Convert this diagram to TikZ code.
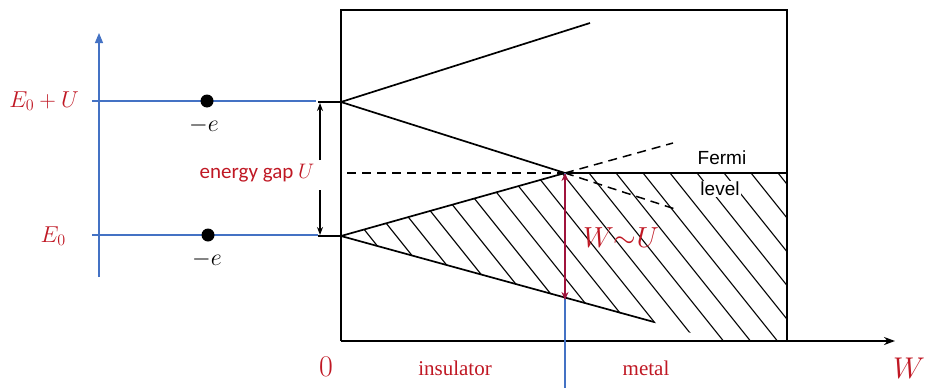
\RequirePackage{fix-cm}
\documentclass[tikz,border=0pt]{standalone}
\usepackage{fontspec}
\newfontfamily\calfont{Carlito}
\newfontfamily\helvfont{Liberation Sans}
\newfontfamily\timesfont{Liberation Serif}
\usetikzlibrary{arrows.meta}
\definecolor{txtred}{RGB}{192,24,36}
\definecolor{arrred}{RGB}{160,20,60}
\definecolor{axblue}{RGB}{68,114,196}
\begin{document}
\begin{tikzpicture}[x=1pt,y=-1pt,
  boxline/.style={line width=1.9pt,black},
  bandline/.style={line width=1.7pt,black},
  hatchline/.style={line width=1.1pt,black},
  dashline/.style={line width=1.5pt,black,dash pattern=on 9pt off 6pt},
  blueline/.style={axblue,line width=1.1pt},
  redtext/.style={text=txtred,inner sep=1pt},
  dot/.style={circle,fill=black,inner sep=0pt,minimum size=13pt}]

\useasboundingbox (0,0) rectangle (926,388);
\fill[white] (0,0) rectangle (926,388);

% key points
\coordinate (BL) at (341,341);
\coordinate (TL) at (341,10);
\coordinate (TR) at (787,10);
\coordinate (BR) at (787,341);
\coordinate (AX) at (895,341);
\coordinate (U0) at (341,102);
\coordinate (L0) at (341,236);
\coordinate (F) at (565,173);
\coordinate (Ftop) at (590,23);
\coordinate (Lend) at (654,322);
\coordinate (FR) at (787,173);
\coordinate (Dl) at (347,173);
\coordinate (Du) at (673,143);
\coordinate (Dd) at (675,209);
\coordinate (Cb) at (720,341);
\coordinate (Wb) at (565,300);
\coordinate (Bb) at (565,388);

% hatching
\begin{scope}
  \clip (L0) -- (F) -- (FR) -- (BR) -- (Cb) -- cycle;
  \foreach \i in {0,...,17}
    \draw[hatchline] ({319+27*\i-56},103) -- ({319+27*\i+160},373);
\end{scope}

% box and axis
\draw[boxline] (BL) -- (TL) -- (TR) -- (BR);
\draw[boxline,-{Stealth[length=11pt,width=8pt]}] (BL) -- (AX);

% bands
\draw[bandline] (Ftop) -- (U0) -- (F) -- (L0) -- (Lend);
\draw[line width=1.4pt] (F) -- (FR);
\draw[dashline] (Dl) -- (F);
\draw[dashline] (F) -- (Du);
\draw[dashline] (F) -- (Dd);

% left axis
\coordinate (Ab) at (99,277);
\coordinate (At) at (99,33);
\draw[blueline,-{Triangle[length=10pt,width=8pt]}] (Ab) -- (At);
\coordinate (h1a) at (92,101);
\coordinate (h1b) at (316,101);
\coordinate (h2a) at (92,235);
\coordinate (h2b) at (318,235);
\draw[blueline] (h1a) -- (h1b);
\draw[blueline] (h2a) -- (h2b);
\coordinate (k1) at (318,102);
\coordinate (k2) at (318,236);
\draw[line width=1.5pt] (k1) -- (U0);
\draw[line width=1.5pt] (k2) -- (L0);

% energy gap arrow (interrupted by label)
\coordinate (g1) at (320,160);
\coordinate (g1t) at (320,103);
\coordinate (g2) at (320,190);
\coordinate (g2t) at (320,235);
\draw[line width=1.5pt,-{Stealth[length=8pt,width=6pt]}] (g1) -- (g1t);
\draw[line width=1.5pt,-{Stealth[length=8pt,width=6pt]}] (g2) -- (g2t);

% dots
\node[dot] (d1) at (207,101) {};
\node[dot] (d2) at (208,235) {};
\node[font=\fontsize{24}{28}\selectfont] (m1) at (204,125) {$-e$};
\node[font=\fontsize{24}{28}\selectfont] (m2) at (207,259) {$-e$};

% labels
\node[redtext,anchor=east,font=\fontsize{23}{26}\selectfont] (eu) at (80,101) {$E_0+U$};
\node[redtext,anchor=east,font=\fontsize{23}{26}\selectfont] (e0) at (67,236) {$E_0$};
\node[redtext,font=\calfont\fontsize{21}{24}\selectfont] (gap) at (257,173) {energy gap $U$};
\node[redtext,font=\fontsize{30}{32}\selectfont] (zero) at (326,367) {$0$};
\node[redtext,font=\timesfont\fontsize{21}{24}\selectfont] (ins) at (455,368) {insulator};
\node[redtext,font=\timesfont\fontsize{21}{24}\selectfont] (met) at (646,368) {metal};
\node[redtext,font=\fontsize{30}{32}\selectfont] (W) at (909,368) {$W$};
\node[font=\helvfont\fontsize{19}{22}\selectfont] (fermi) at (722,158) {Fermi};
\node[fill=white,inner sep=1pt,font=\helvfont\fontsize{19}{22}\selectfont] (level) at (720,189) {level};

% W ~ U arrow
\draw[blueline] (F) -- (Bb);
\draw[arrred,line width=2.6pt,{Stealth[length=8pt,width=7pt]}-{Stealth[length=8pt,width=7pt]}] (F) -- (Wb);
\node[redtext,font=\fontsize{29}{32}\selectfont] (wu) at (621,238) {$W{\sim}U$};
\end{tikzpicture}
\end{document}
